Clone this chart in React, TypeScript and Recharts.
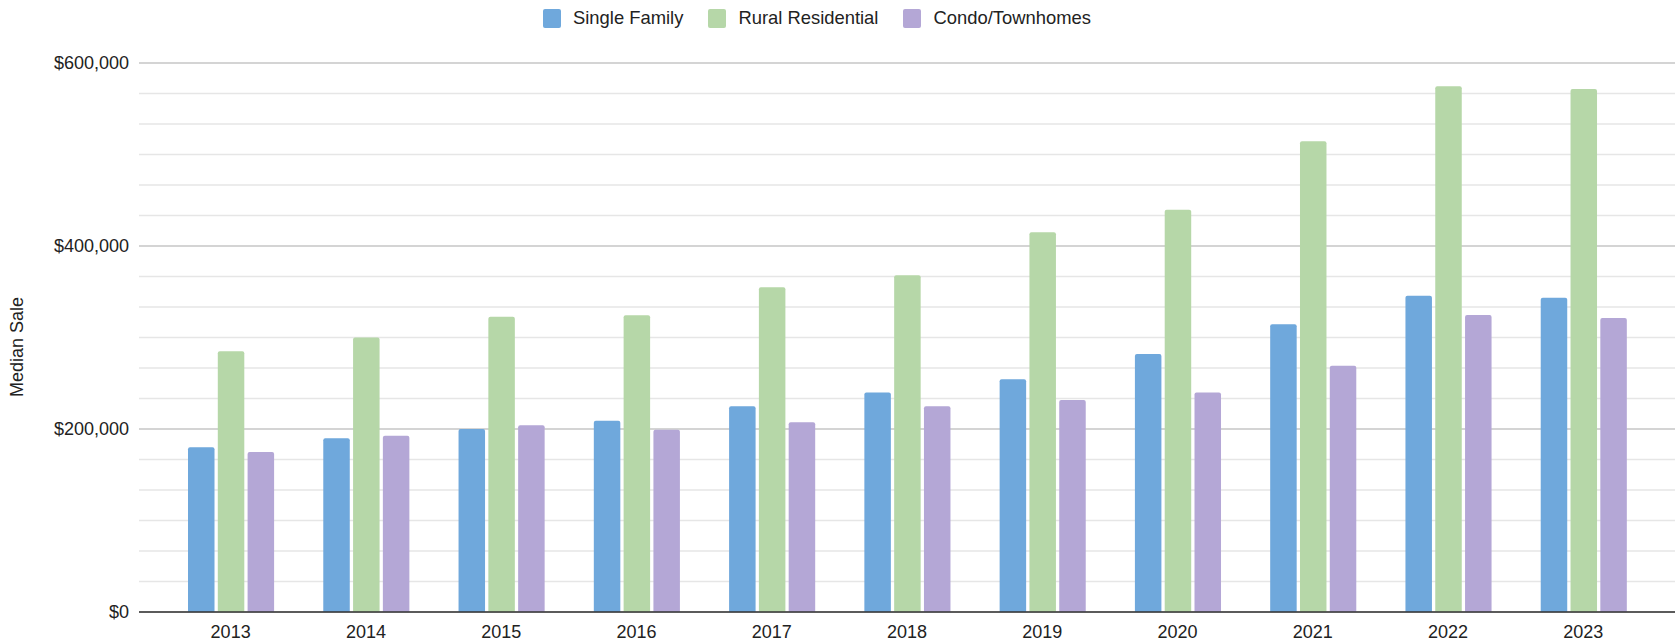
import React from 'react';
import { BarChart, Bar, XAxis, YAxis, CartesianGrid, Legend } from 'recharts';

const years = ['2013', '2014', '2015', '2016', '2017', '2018', '2019', '2020', '2021', '2022', '2023'];
const singleFamily = [180000, 190000, 200000, 209000, 225000, 240000, 254500, 282000, 314500, 345500, 343500];
const ruralResidential = [285000, 300000, 322700, 324200, 355000, 368000, 415000, 439500, 514500, 574500, 571500];
const condoTownhomes = [175000, 192500, 204000, 199300, 207300, 225000, 231700, 240000, 269000, 324700, 321400];

const yTicks = [0, 33333.33, 66666.67, 100000, 133333.33, 166666.67, 200000, 233333.33, 266666.67, 300000, 333333.33, 366666.67, 400000, 433333.33, 466666.67, 500000, 533333.33, 566666.67, 600000];
const majorTicks = [0, 200000, 400000, 600000];

const seriesDefs = [
  { key: 'single', name: 'Single Family', color: '#6fa8dc' },
  { key: 'rural', name: 'Rural Residential', color: '#b6d7a8' },
  { key: 'condo', name: 'Condo/Townhomes', color: '#b4a7d6' },
];

const data = years.map((y, i) => ({
  year: y,
  single: singleFamily[i],
  rural: ruralResidential[i],
  condo: condoTownhomes[i],
}));

const FONT = '"Liberation Sans", Arial, Helvetica, sans-serif';

const fmt = (v: number) => {
  const r = Math.round(v);
  if (!majorTicks.includes(r)) return '';
  return '$' + r.toLocaleString('en-US');
};

const renderLegend = () => (
  <div
    style={{
      display: 'flex',
      height: 36,
      alignItems: 'center',
      paddingLeft: 543,
      fontFamily: FONT,
      fontSize: 18.4,
      color: '#222',
      boxSizing: 'border-box',
    }}
  >
    {seriesDefs.map((s) => (
      <div key={s.key} style={{ display: 'flex', alignItems: 'center', marginRight: 25 }}>
        <span
          style={{
            display: 'inline-block',
            width: 18,
            height: 19,
            background: s.color,
            borderRadius: 2,
            marginRight: 12,
          }}
        />
        <span style={{ whiteSpace: 'nowrap' }}>{s.name}</span>
      </div>
    ))}
  </div>
);

export default function App() {
  return (
    <div style={{ position: 'absolute', left: 0, top: 0, width: 1675, height: 644, background: '#fff' }}>
      <BarChart
        width={1675}
        height={644}
        data={data}
        margin={{ top: 27, right: 0, bottom: 0, left: 0 }}
        barGap={3.3}
        style={{ fontFamily: FONT }}
      >
        <CartesianGrid vertical={false} stroke="#e6e6e6" strokeWidth={1.3} />
        <CartesianGrid vertical={false} stroke="#cccccc" strokeWidth={1.3} horizontalValues={majorTicks} />
        <Legend
          verticalAlign="top"
          align="left"
          content={renderLegend}
          wrapperStyle={{ top: 0, left: 0, width: 1675 }}
        />
        <XAxis
          dataKey="year"
          padding={{ left: 24, right: 24 }}
          tickLine={false}
          axisLine={{ stroke: '#333', strokeWidth: 1.5 }}
          tick={{ fontSize: 18, fill: '#222', fontFamily: FONT }}
          tickMargin={7}
          height={32}
          interval={0}
        />
        <YAxis
          width={139}
          domain={[0, 600000]}
          ticks={yTicks}
          interval={0}
          tickFormatter={fmt}
          tickLine={false}
          axisLine={false}
          tickMargin={4}
          tick={{ fontSize: 18, fill: '#222', fontFamily: FONT }}
          label={{
            content: () => (
              <text
                x={17}
                y={347}
                transform="rotate(-90 17 347)"
                textAnchor="middle"
                dominantBaseline="central"
                fontSize={18}
                fill="#222"
                fontFamily={FONT}
              >
                Median Sale
              </text>
            ),
          }}
        />
        {seriesDefs.map((s) => (
          <Bar
            key={s.key}
            dataKey={s.key}
            name={s.name}
            fill={s.color}
            barSize={26.5}
            radius={[2, 2, 0, 0]}
            isAnimationActive={false}
          />
        ))}
      </BarChart>
    </div>
  );
}
